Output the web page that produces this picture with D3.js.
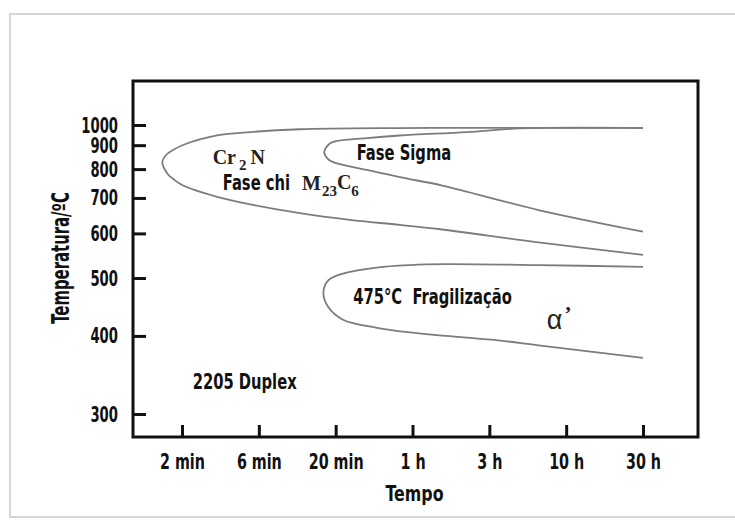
<!DOCTYPE html>
<html>
<head>
<meta charset="utf-8">
<script src="https://cdn.jsdelivr.net/npm/d3@7"></script>
<style>
  body { margin: 0; background: #fff; }
  svg { display: block; }
  .cond { font-family: "DejaVu Sans", sans-serif; font-weight: bold; fill: #111; }
  .serif { font-family: "Liberation Serif", "DejaVu Serif", serif; font-weight: bold; fill: #222; }
  .greek { font-family: "Liberation Sans", "DejaVu Sans", sans-serif; fill: #222; }
</style>
</head>
<body>
<svg id="chart" width="735" height="521"></svg>
<script>
// Time axis (minutes) and its labels
const timeTicks  = [2, 6, 20, 60, 180, 600, 1800];
const timeLabels = ["2 min", "6 min", "20 min", "1 h", "3 h", "10 h", "30 h"];
// Temperature axis (°C)
const tempTicks  = [300, 400, 500, 600, 700, 800, 900, 1000];

// Precipitation C-curves of 2205 duplex: [time in minutes, temperature in °C],
// traced along the upper branch from the right, round the nose, then back along the lower branch.
const curveCr2N = [
  [1800, 986], [213, 986], [50, 985], [11.4, 979], [5.3, 965], [3.3, 948], [2.03, 901],
  [1.76, 880], [1.61, 862], [1.51, 829], [1.63, 783], [1.77, 765], [2.03, 743],
  [3.3, 704], [5.3, 682], [11.4, 657], [24.5, 638], [50, 624], [92, 611], [389, 580], [1800, 552]
];
const curveSigma = [
  [1800, 985], [291, 983], [131, 965], [50, 948], [31.3, 935], [19.2, 916], [17.5, 896],
  [16.7, 869], [17.6, 844], [19.2, 829], [31.3, 797], [50, 772], [92, 743],
  [389, 666], [1800, 605]
];
const curveAlpha = [
  [1800, 525], [389, 529], [97, 531], [58, 529], [36, 523.5], [22.2, 510], [17.8, 496],
  [16.5, 474], [17.8, 450], [22.2, 428], [36.1, 414], [57.9, 406], [96.8, 400],
  [213, 394], [389, 388], [1800, 372]
];

// Region labels, anchored at [time, temperature] of their left baseline point
const labelSigma   = { text: "Fase Sigma", t: 27.0, T: 836 };
const labelChi     = { text: "Fase chi", t: 3.58, T: 726 };
const labelEmbr    = { text: "475°C\u00a0\u00a0Fragilização", t: 25.7, T: 455 };
const labelAlloy   = { text: "2205 Duplex", t: 2.33, T: 332 };
const labelCr2N    = { t: 3.10, T: 823 };
const labelM23C6   = { t: 11.8, T: 729 };
const labelAlphaP  = { t: 442, T: 412 };

const W = 735, H = 521;
const box = { left: 133, top: 81, right: 698, bottom: 437 };

const svg = d3.select("#chart");

// narrow heavy lettering: squeeze a bold sans text horizontally
function squeeze(k) {
  return sel => sel.each(function () {
    const w = this.getComputedTextLength();
    d3.select(this).attr("textLength", w * k).attr("lengthAdjust", "spacingAndGlyphs");
  });
}

// paper card with light border
svg.append("rect")
  .attr("x", 10).attr("y", 14)
  .attr("width", W + 20).attr("height", 503)
  .attr("fill", "#fff")
  .attr("stroke", "#d6d6d6")
  .attr("stroke-width", 2);

// x: log time, ticks evenly spaced inside the frame
const x0 = box.left + 49, x1 = box.right - 55;
const x = d3.scaleLog()
  .domain(timeTicks)
  .range(timeTicks.map((d, i) => x0 + i * (x1 - x0) / (timeTicks.length - 1)));

// y: reciprocal absolute temperature
const recip = d3.scaleLinear()
  .domain([1 / (1000 + 273.15), 1 / (300 + 273.15)])
  .range([box.top + 44, box.bottom - 23]);
const y = d3.scaleLinear()
  .domain(tempTicks)
  .range(tempTicks.map(t => recip(1 / (t + 273.15))));

// curves
const line = d3.line()
  .x(d => x(d[0]))
  .y(d => y(d[1]))
  .curve(d3.curveCatmullRom.alpha(0.5));

svg.append("g")
  .selectAll("path")
  .data([curveCr2N, curveSigma, curveAlpha])
  .join("path")
  .attr("d", line)
  .attr("fill", "none")
  .attr("stroke", "#7c7c7c")
  .attr("stroke-width", 1.8);

// axes with inward ticks
function styleAxis(k) {
  return g => {
    g.select(".domain").remove();
    g.attr("font-family", null).attr("font-size", null);
    g.selectAll(".tick line").attr("stroke", "#111").attr("stroke-width", 3);
    g.selectAll(".tick text").attr("class", "cond").style("font-size", "22px").attr("fill", "#111")
      .call(squeeze(k));
  };
}

svg.append("g")
  .attr("transform", `translate(0,${box.bottom})`)
  .call(d3.axisBottom(x)
    .tickValues(timeTicks)
    .tickFormat((d, i) => timeLabels[i])
    .tickSize(-12).tickSizeOuter(0).tickPadding(16))
  .call(styleAxis(0.65));

svg.append("g")
  .attr("transform", `translate(${box.left},0)`)
  .call(d3.axisLeft(y)
    .tickValues(tempTicks)
    .tickFormat(d3.format("d"))
    .tickSize(-13).tickSizeOuter(0).tickPadding(15))
  .call(styleAxis(0.6));

// frame
svg.append("rect")
  .attr("x", box.left).attr("y", box.top)
  .attr("width", box.right - box.left).attr("height", box.bottom - box.top)
  .attr("fill", "none")
  .attr("stroke", "#111")
  .attr("stroke-width", 3);

// axis titles
svg.append("text")
  .attr("class", "cond")
  .attr("x", x(60) + 2).attr("y", 501)
  .attr("text-anchor", "middle")
  .style("font-size", "22px")
  .text("Tempo")
  .call(squeeze(0.72));

svg.append("text")
  .attr("class", "cond")
  .attr("transform", `translate(${box.left - 64},${(box.top + box.bottom) / 2 - 1}) rotate(-90)`)
  .attr("text-anchor", "middle")
  .style("font-size", "24px")
  .text("Temperatura/ºC")
  .call(squeeze(0.62));

// plain region labels
svg.append("g")
  .selectAll("text")
  .data([labelSigma, labelChi, labelEmbr, labelAlloy])
  .join("text")
  .attr("class", "cond")
  .attr("x", d => x(d.t)).attr("y", d => y(d.T))
  .style("font-size", "22px")
  .text(d => d.text)
  .call(squeeze(0.67));

// Cr2N
const cr = svg.append("text")
  .attr("class", "serif")
  .attr("x", x(labelCr2N.t)).attr("y", y(labelCr2N.T))
  .style("font-size", "20px");
cr.append("tspan").text("Cr");
cr.append("tspan").attr("dx", 3).attr("dy", 6).style("font-size", "15px").text("2");
cr.append("tspan").attr("dx", 4).attr("dy", -6).text("N");

// M23C6
const m = svg.append("text")
  .attr("class", "serif")
  .attr("x", x(labelM23C6.t)).attr("y", y(labelM23C6.T))
  .style("font-size", "20px");
m.append("tspan").text("M");
m.append("tspan").attr("dx", 1).attr("dy", 6).style("font-size", "15px").text("23");
m.append("tspan").attr("dy", -7).text("C");
m.append("tspan").attr("dy", 7).style("font-size", "15px").text("6");

// alpha prime
const a = svg.append("text")
  .attr("class", "greek")
  .attr("x", x(labelAlphaP.t)).attr("y", y(labelAlphaP.T))
  .style("font-size", "27px");
a.append("tspan").text("α");
a.append("tspan").attr("class", "serif").attr("dx", 2).attr("dy", -8).style("font-size", "22px").text("’");
</script>
</body>
</html>
